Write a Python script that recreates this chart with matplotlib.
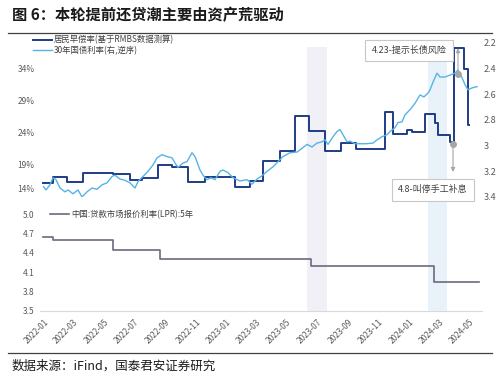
import matplotlib
matplotlib.use('Agg')
import matplotlib.pyplot as plt
import matplotlib.dates as mdates
from matplotlib.lines import Line2D
from matplotlib.transforms import ScaledTranslation
import pandas as pd

plt.rcParams['font.family'] = ['Noto Sans CJK SC', 'DejaVu Sans']
plt.rcParams['axes.unicode_minus'] = False

# --- Data ---
# 居民早偿率 (monthly steps, change dates)
prepay_dates = ['2021-12-31', '2022-01-19', '2022-02-16', '2022-03-20', '2022-05-19',
                '2022-06-22', '2022-07-16', '2022-08-17', '2022-09-14', '2022-10-16',
                '2022-11-19', '2023-01-18', '2023-02-17', '2023-03-15', '2023-04-18',
                '2023-05-18', '2023-06-15', '2023-07-17', '2023-08-18', '2023-09-17',
                '2023-11-14', '2023-11-30', '2023-12-28', '2024-01-07', '2024-02-02',
                '2024-02-22', '2024-02-28', '2024-03-23', '2024-03-31', '2024-04-20',
                '2024-04-28', '2024-04-30']
prepay_vals = [0.162, 0.171, 0.163, 0.178, 0.176,
               0.167, 0.170, 0.190, 0.187, 0.164,
               0.171, 0.156, 0.165, 0.196, 0.212,
               0.266, 0.243, 0.212, 0.224, 0.215,
               0.272, 0.238, 0.244, 0.241, 0.270,
               0.256, 0.236, 0.226, 0.372, 0.340,
               0.252, 0.252]

# 30年国债利率
bond_dates = ['2021-12-31', '2022-01-05', '2022-01-13', '2022-01-19', '2022-01-25',
              '2022-02-02', '2022-02-12', '2022-02-18', '2022-02-28', '2022-03-10',
              '2022-03-18', '2022-03-28', '2022-04-07', '2022-04-17', '2022-04-27',
              '2022-05-07', '2022-05-17', '2022-05-23', '2022-06-02', '2022-06-12',
              '2022-06-22', '2022-07-02', '2022-07-08', '2022-07-18', '2022-07-28',
              '2022-08-07', '2022-08-15', '2022-08-25', '2022-09-04', '2022-09-14',
              '2022-09-20', '2022-09-26', '2022-10-06', '2022-10-14', '2022-10-24',
              '2022-10-30', '2022-11-09', '2022-11-15', '2022-11-23', '2022-12-01',
              '2022-12-09', '2022-12-19', '2022-12-25', '2023-01-04', '2023-01-14',
              '2023-01-28', '2023-02-11', '2023-02-21', '2023-03-03', '2023-03-13',
              '2023-03-23', '2023-04-04', '2023-04-14', '2023-04-24', '2023-05-08',
              '2023-05-22', '2023-06-03', '2023-06-11', '2023-06-21', '2023-07-01',
              '2023-07-11', '2023-07-17', '2023-07-23', '2023-08-02', '2023-08-10',
              '2023-08-16', '2023-08-22', '2023-08-30', '2023-09-05', '2023-09-15',
              '2023-09-25', '2023-10-07', '2023-10-21', '2023-10-29', '2023-11-08',
              '2023-11-18', '2023-11-24', '2023-12-04', '2023-12-10', '2023-12-18',
              '2023-12-24', '2024-01-03', '2024-01-13', '2024-01-23', '2024-01-31',
              '2024-02-08', '2024-02-12', '2024-02-18', '2024-02-26', '2024-03-03',
              '2024-03-13', '2024-03-23', '2024-04-02', '2024-04-08', '2024-04-16',
              '2024-04-22', '2024-04-28', '2024-05-06', '2024-05-16']
bond_vals = [3.32, 3.345, 3.305, 3.25, 3.265,
             3.33, 3.36, 3.345, 3.375, 3.345,
             3.40, 3.36, 3.33, 3.34, 3.305,
             3.29, 3.24, 3.23, 3.26, 3.27,
             3.29, 3.33, 3.28, 3.24, 3.20,
             3.15, 3.095, 3.07, 3.085, 3.095,
             3.135, 3.17, 3.135, 3.125, 3.055,
             3.085, 3.19, 3.23, 3.265, 3.25,
             3.265, 3.20, 3.19, 3.21, 3.25,
             3.275, 3.265, 3.30, 3.26, 3.235,
             3.20, 3.165, 3.125, 3.085, 3.055,
             3.05, 3.015, 2.99, 3.01, 2.98,
             2.97, 2.955, 2.99, 2.93, 2.89,
             2.875, 2.915, 2.97, 2.965, 2.985,
             2.985, 2.985, 2.98, 2.955, 2.93,
             2.915, 2.89, 2.86, 2.82, 2.815,
             2.76, 2.72, 2.67, 2.605, 2.62,
             2.59, 2.565, 2.505, 2.435, 2.465,
             2.465, 2.45, 2.435, 2.41, 2.47,
             2.525, 2.565, 2.55, 2.54]

# 5年期LPR
lpr_dates = ['2021-12-31', '2022-01-20', '2022-05-20', '2022-08-22', '2023-06-20',
             '2024-02-20', '2024-05-21']
lpr_vals = [4.65, 4.60, 4.45, 4.30, 4.20, 3.95, 3.95]

# shaded periods
shade_periods = [('2023-06-11', '2023-07-21'), ('2024-02-08', '2024-03-17')]
shade_colors = ['#f0f0f6', '#eaf2f9']

left_ticks = [0.14, 0.19, 0.24, 0.29, 0.34]
left_labels = ['14%', '19%', '24%', '29%', '34%']
right_ticks = [2.2, 2.4, 2.6, 2.8, 3.0, 3.2, 3.4]
lpr_ticks = [3.5, 3.8, 4.1, 4.4, 4.7, 5.0]

C_DARK = '#1f3c86'
C_LIGHT = '#55b4e6'
C_LPR = '#6a6a7e'
C_TXT = '#595959'

xmin, xmax = pd.Timestamp('2021-12-24'), pd.Timestamp('2024-05-26')

fig = plt.figure(figsize=(5, 3.75), dpi=100)
H = 375.0

# --- shaded background spanning both panels ---
bg = fig.add_axes([0.08, 1 - 311 / H, 0.884, (311 - 47) / H])
bg.axis('off')
bg.set_xlim(xmin, xmax)
for (s, e), c in zip(shade_periods, shade_colors):
    bg.axvspan(pd.Timestamp(s), pd.Timestamp(e), color=c, lw=0)

# --- top panel ---
ax1 = fig.add_axes([0.08, 1 - 197 / H, 0.884, 154 / H])
ax1.patch.set_visible(False)
ax2 = ax1.twinx()
ax1.step(pd.to_datetime(prepay_dates), prepay_vals, where='post', color=C_DARK, lw=1.4)
ax2.plot(pd.to_datetime(bond_dates), bond_vals, color=C_LIGHT, lw=1.0)
ax1.set_xlim(xmin, xmax)
ax1.set_ylim(0.14, 0.38)
ax2.set_ylim(3.4, 2.2)
ax1.set_xticks([])
ax1.set_yticks(left_ticks)
ax1.set_yticklabels(left_labels)
ax2.set_yticks(right_ticks)
ax2.set_yticklabels([f'{v:g}' for v in right_ticks])
ax1.tick_params(axis='y', length=0, pad=4, labelsize=6, labelcolor=C_TXT)
ax2.tick_params(axis='y', length=0, pad=1, labelsize=6.5, labelcolor=C_TXT)
for a in (ax1, ax2):
    for sp in a.spines.values():
        sp.set_visible(False)
# "14%" sits a bit higher in the original
lab = ax1.get_yticklabels()[0]
lab.set_transform(lab.get_transform() + ScaledTranslation(0, 9 / 100, fig.dpi_scale_trans))

handles = [Line2D([], [], color=C_DARK, lw=1.4), Line2D([], [], color=C_LIGHT, lw=1.0)]
ax2.legend(handles, ['居民早偿率(基于RMBS数据测算)', '30年国债利率(右,逆序)'],
           loc='upper left', bbox_to_anchor=(-0.016, 1.05), frameon=False,
           fontsize=6, handlelength=2.3, handletextpad=0.2, labelspacing=0.15,
           borderpad=0, borderaxespad=0, labelcolor='#404040')

# annotations
box = dict(boxstyle='square,pad=0.7', fc='white', ec='#c8c8c8', lw=0.8)
ax2.plot(pd.Timestamp('2024-04-08'), 2.44, 'o', color='#a6a6a6', ms=4, zorder=5)
ax2.annotate('', xy=(pd.Timestamp('2024-04-08'), 2.24), xytext=(pd.Timestamp('2024-04-08'), 2.44),
             arrowprops=dict(arrowstyle='-|>', color='#a6a6a6', lw=0.8, mutation_scale=6,
                             shrinkA=0, shrinkB=0))
ax2.text(pd.Timestamp('2024-01-01'), 2.258, '4.23-提示长债风险', fontsize=6.5, color='#404040',
         ha='center', va='center', bbox=box, zorder=6)

ax1.plot(pd.Timestamp('2024-03-29'), 0.222, 'o', color='#a6a6a6', ms=4, zorder=5)
ax1.annotate('', xy=(pd.Timestamp('2024-03-29'), 0.179), xytext=(pd.Timestamp('2024-03-29'), 0.222),
             arrowprops=dict(arrowstyle='-|>', color='#a6a6a6', lw=0.8, mutation_scale=6,
                             shrinkA=0, shrinkB=0))
ax1.text(pd.Timestamp('2024-02-18'), 0.1514, '4.8-叫停手工补息', fontsize=6.5, color='#404040',
         ha='center', va='center', bbox=box, zorder=6)

# --- bottom panel: LPR ---
ax3 = fig.add_axes([0.08, 1 - 311 / H, 0.884, 97 / H])
ax3.patch.set_visible(False)
ax3.step(pd.to_datetime(lpr_dates), lpr_vals, where='post', color=C_LPR, lw=1.2,
         label='中国:贷款市场报价利率(LPR):5年')
ax3.set_xlim(xmin, xmax)
ax3.set_ylim(3.5, 5.0)
ax3.set_yticks(lpr_ticks)
ax3.set_yticklabels([f'{v:.1f}' for v in lpr_ticks])
ax3.xaxis.set_major_locator(mdates.MonthLocator(bymonth=[1, 3, 5, 7, 9, 11]))
ax3.xaxis.set_major_formatter(mdates.DateFormatter('%Y-%m'))
ax3.tick_params(axis='both', length=0, labelsize=6, labelcolor=C_TXT)
ax3.tick_params(axis='y', pad=4)
ax3.tick_params(axis='x', pad=5)
for lbl in ax3.get_xticklabels():
    lbl.set_rotation(45)
    lbl.set_ha('right')
    lbl.set_rotation_mode('anchor')
for k in ('left', 'right', 'top'):
    ax3.spines[k].set_visible(False)
ax3.spines['bottom'].set_color('#d9d9d9')
ax3.spines['bottom'].set_linewidth(0.8)
ax3.legend(loc='upper left', bbox_to_anchor=(0.023, 1.04), frameon=False, fontsize=6,
           handlelength=2.3, handletextpad=0.2, borderpad=0, borderaxespad=0,
           labelcolor='#404040')

# --- title, rules and source ---
fig.text(12 / 500, 1 - 15 / H, '图 6：本轮提前还贷潮主要由资产荒驱动', fontsize=11,
         fontweight='bold', color='#1a1a1a', ha='left', va='center')
fig.add_artist(Line2D([8 / 500, 492 / 500], [1 - 33 / H, 1 - 33 / H], color='#404040', lw=0.9))
fig.add_artist(Line2D([8 / 500, 492 / 500], [1 - 353 / H, 1 - 353 / H], color='#404040', lw=0.9))
fig.text(12 / 500, 1 - 366 / H, '数据来源：iFind，国泰君安证券研究', fontsize=9,
         color='#1a1a1a', ha='left', va='center')

fig.savefig('out.png', dpi=100)
